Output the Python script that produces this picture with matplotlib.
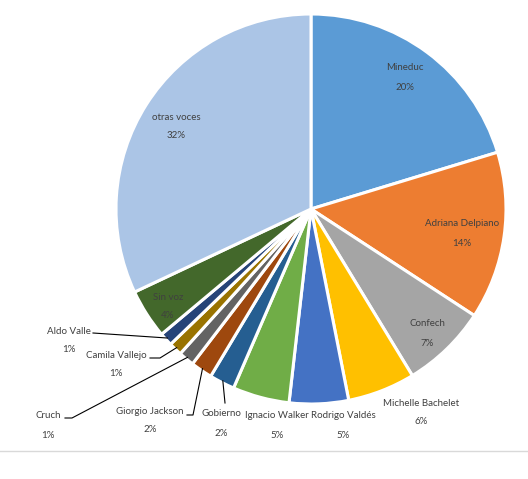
import numpy as np
import matplotlib
matplotlib.use('Agg')
import matplotlib.pyplot as plt

# Data (share of voices, %)
names = ['Mineduc', 'Adriana Delpiano', 'Confech', 'Michelle Bachelet',
         'Rodrigo Valdés', 'Ignacio Walker', 'Gobierno', 'Giorgio Jackson',
         'Cruch', 'Camila Vallejo', 'Aldo Valle', 'Sin voz', 'otras voces']
shares = [20.3, 13.9, 7.1, 5.6, 4.9, 4.7, 2.1, 1.8, 1.3, 1.1, 1.1, 4.1, 32.0]
colors = ['#5B9BD5', '#ED7D31', '#A5A5A5', '#FFC000', '#4472C4', '#70AD47',
          '#255E91', '#9E480E', '#636363', '#997300', '#264478', '#43682B',
          '#ABC5E6']

# label layout in pixels (x centre, y of name line)
label_px = [(405, 68), (462, 224), (427, 324), (421, 403), (343, 416),
            (277, 416), (221, 414), (150, 411), (48, 416), (116, 355),
            (69, 331), (168, 297), (176, 117)]
# leader line start points (pixels) for the small slices, None = no line
leader_px = [None, None, None, None, None, None,
             [(225, 403)], [(187, 415), (193, 415)], [(65, 418), (72, 418)],
             [(150, 358), (160, 358)], [(93, 333)], None, None]

W, H = 528, 479
cx, cy, R = 311, 209, 195

fig = plt.figure(figsize=(W / 100, H / 100), dpi=100)
ax = fig.add_axes([(cx - R) / W, (H - cy - R) / H, 2 * R / W, 2 * R / H])
wedges, _ = ax.pie(shares, colors=colors, startangle=90, counterclock=False,
                   radius=1.0, wedgeprops=dict(edgecolor='white', linewidth=2.2))
ax.set_xlim(-1, 1)
ax.set_ylim(-1, 1)
ax.axis('off')


def to_data(px, py):
    return (px - cx) / R, (cy - py) / R


txt_color = '#404040'
font = dict(family=['Lato', 'DejaVu Sans'], size=7.0, color=txt_color)
for i, w in enumerate(wedges):
    px, py = label_px[i]
    x, y = to_data(px, py)
    x2, y2 = to_data(px, py + 19)
    ax.text(x, y, names[i], ha='center', va='center', **font)
    ax.text(x2, y2, '%d%%' % round(shares[i]), ha='center', va='center', **font)
    if leader_px[i] is not None:
        mid = np.deg2rad((w.theta1 + w.theta2) / 2)
        pts = [to_data(*p) for p in leader_px[i]]
        pts.append((np.cos(mid) * 0.99, np.sin(mid) * 0.99))
        xs, ys = zip(*pts)
        ax.plot(xs, ys, color='black', linewidth=0.8, clip_on=False)

# bottom frame line
fig.add_artist(plt.Line2D([0, 1], [(H - 451) / H, (H - 451) / H],
                          color='#D9D9D9', linewidth=1.0))

fig.savefig('out.png', dpi=100)
